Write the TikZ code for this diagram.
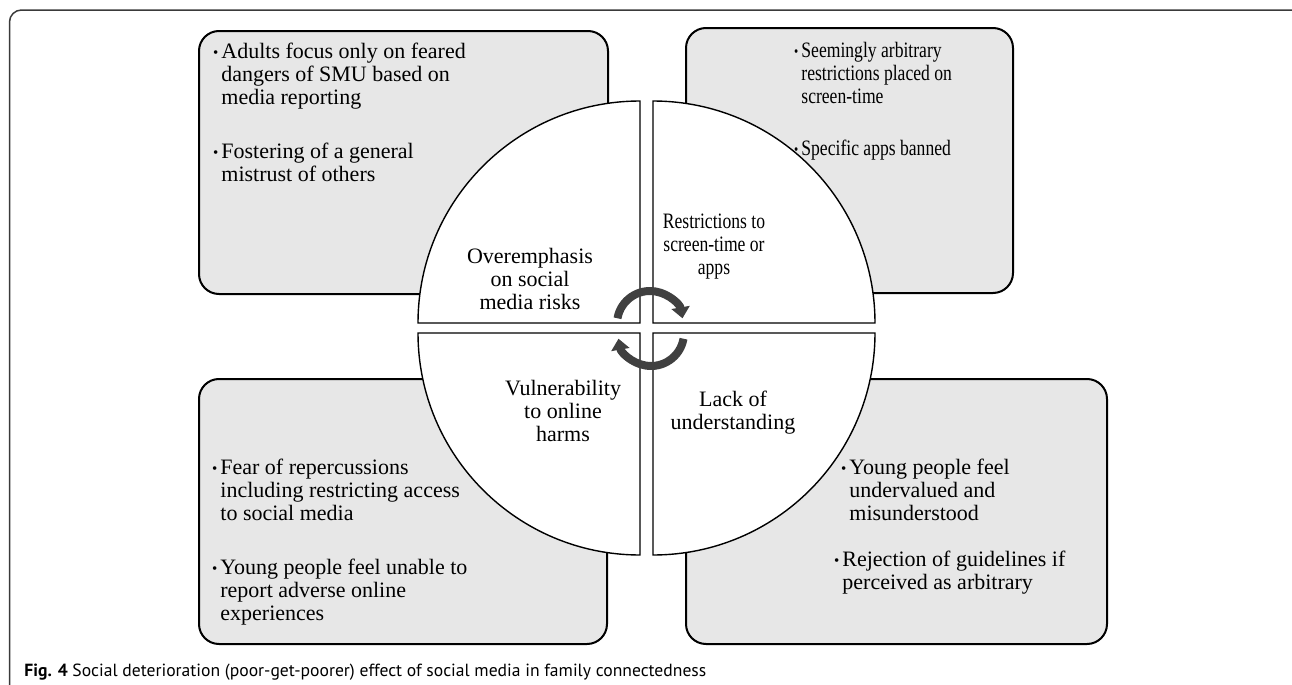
\documentclass[tikz,border=0pt]{standalone}
\usepackage{fontspec}
\setmainfont{Liberation Serif}
\newfontfamily\narrowserif[FakeStretch=0.8]{Liberation Serif}
\newfontfamily\capfont{PT Sans}
\usetikzlibrary{arrows.meta, positioning}
\definecolor{boxgrey}{HTML}{E7E7E7}
\definecolor{arrowgrey}{HTML}{404040}
\definecolor{framegrey}{HTML}{3A3A3A}
\tikzset{
    greybox/.style={rectangle, rounded corners=10pt, draw=black, line width=1pt, fill=boxgrey, anchor=north west, inner sep=0pt},
    quadrant/.style={draw=black, line width=0.7pt, fill=white},
    itemtext/.style={anchor=north west, inner sep=0pt, align=left, font=\fontsize{11}{11.5}\selectfont},
    narrowtext/.style={itemtext, font=\narrowserif\fontsize{11}{11.5}\selectfont},
    quadlabel/.style={inner sep=0pt, align=center, font=\fontsize{11}{11.5}\selectfont},
    cyclearrow/.style={draw=arrowgrey, line width=4pt, -{Triangle[width=9pt,length=5.5pt]}}
}
\newcommand{\bul}{\llap{\raisebox{0.8pt}{\fontsize{7.5}{7.5}\selectfont\textbullet}\hspace{1.5pt}}}

\begin{document}
\begin{tikzpicture}[x=0.5pt, y=-0.5pt]
    \useasboundingbox (0,0) rectangle (1292,685);

        % ------------------
        % frame and boxes
        % ------------------

        \draw[framegrey, line width=0.75pt, rounded corners=6pt] (9.5,10) rectangle (1310,710);

        \node[greybox, minimum width=204.5pt, minimum height=131.5pt] (boxTL) at (198,30) {};
        \node[greybox, minimum width=163.5pt, minimum height=132.5pt] (boxTR) at (685,27) {};
        \node[greybox, minimum width=204pt, minimum height=132.5pt] (boxBL) at (198,378) {};
        \node[greybox, minimum width=210.5pt, minimum height=132.5pt] (boxBR) at (685,378) {};

        % ------------------
        % circle
        % ------------------

        \draw[quadrant] (640,323) -- (418,323) arc[start angle=180, end angle=270, radius=222] -- cycle;
        \draw[quadrant] (653,323) -- (653,101) arc[start angle=270, end angle=360, radius=222] -- cycle;
        \draw[quadrant] (640,333) -- (418,333) arc[start angle=180, end angle=90, radius=222] -- cycle;
        \draw[quadrant] (653,333) -- (875,333) arc[start angle=0, end angle=90, radius=222] -- cycle;

        % ------------------
        % texts
        % ------------------

        \node[itemtext] (adults) at (221,43) {\bul Adults focus only on feared\\dangers of SMU based on\\media reporting};
        \node[itemtext] (fostering) at (221,143) {\bul Fostering of a general\\mistrust of others};

        \node[narrowtext] (seemingly) at (801,42) {\bul Seemingly arbitrary\\restrictions placed on\\screen-time};
        \node[narrowtext] (specific) at (801,140) {\bul Specific apps banned};

        \node[itemtext] (fear) at (220,459) {\bul Fear of repercussions\\including restricting access\\to social media};
        \node[itemtext] (unable) at (220,559) {\bul Young people feel unable to\\report adverse online\\experiences};

        \node[itemtext] (undervalued) at (849,459) {\bul Young people feel\\undervalued and\\misunderstood};
        \node[itemtext] (rejection) at (842,551) {\bul Rejection of guidelines if\\perceived as arbitrary};

        \node[quadlabel] (overemphasis) at (530,279) {Overemphasis\\on social\\media risks};
        \node[quadlabel, font=\narrowserif\fontsize{11}{11.5}\selectfont] (restrictions) at (714,247) {Restrictions to\\screen-time or\\apps};
        \node[quadlabel] (vulnerability) at (563,411) {Vulnerability\\to online\\harms};
        \node[quadlabel] (lack) at (733,413) {Lack of\\understanding};

        % ------------------
        % arrows
        % ------------------

        \draw[cyclearrow] (650,324) ++(190:33) arc[start angle=190, end angle=350, radius=33];
        \draw[cyclearrow] (651,333) ++(10:33) arc[start angle=10, end angle=170, radius=33];

        \node[anchor=base west, inner sep=0pt, font=\capfont\fontsize{8.8}{10}\selectfont] (caption) at (24,676) {\textbf{Fig. 4} Social deterioration (poor-get-poorer) effect of social media in family connectedness};

\end{tikzpicture}
\end{document}
